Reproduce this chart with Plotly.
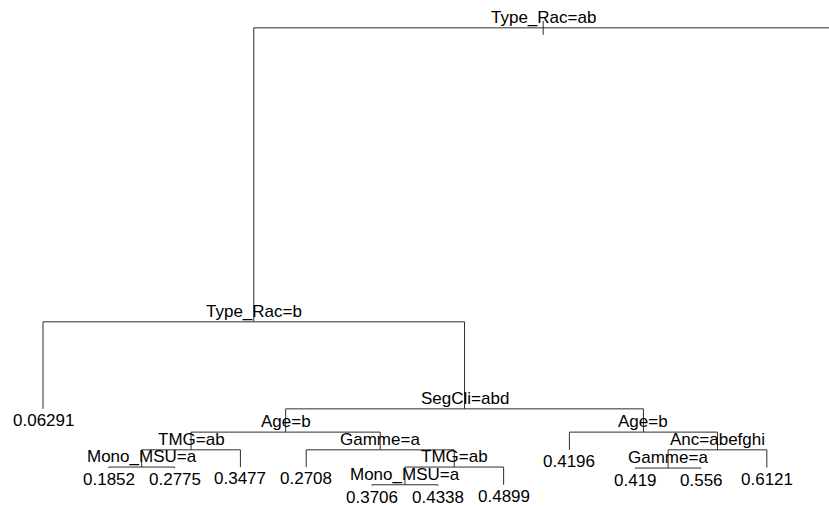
import plotly.graph_objects as go

# Regression tree (rpart-style numbering: children of node k are 2k and 2k+1)
node_ids = [1, 2, 3, 4, 5, 10, 11, 20, 21, 22, 23, 40, 41, 42, 43,
            46, 47, 80, 81, 86, 87, 92, 93, 172, 173]

split_labels = {
    1: "Type_Rac=ab",
    2: "Type_Rac=b",
    5: "SegCli=abd",
    10: "Age=b",
    11: "Age=b",
    20: "TMG=ab",
    21: "Gamme=a",
    23: "Anc=abefghi",
    40: "Mono_MSU=a",
    43: "TMG=ab",
    46: "Gamme=a",
    86: "Mono_MSU=a",
}

leaf_values = {
    3: None,          # right branch of the root continues beyond the frame
    4: "0.06291",
    22: "0.4196",
    41: "0.3477",
    42: "0.2708",
    47: "0.6121",
    80: "0.1852",
    81: "0.2775",
    87: "0.4899",
    92: "0.419",
    93: "0.556",
    172: "0.3706",
    173: "0.4338",
}

# node heights (deviance-scaled, root on top)
node_height = {
    1: 0.945,
    2: 0.364, 3: 0.364,
    4: 0.192, 5: 0.192,
    10: 0.146, 11: 0.146,
    20: 0.111, 21: 0.111, 22: 0.111, 23: 0.111,
    40: 0.077, 41: 0.077, 42: 0.077, 43: 0.077, 46: 0.075, 47: 0.076,
    80: 0.075, 81: 0.075, 86: 0.042, 87: 0.042, 92: 0.074, 93: 0.074,
    172: 0.040, 173: 0.040,
}

ids = set(node_ids)


def is_leaf(n):
    return (2 * n) not in ids


# leaf order from an in-order walk, internal x = midpoint of the children
xpos = {}
counter = [0]


def place(n):
    if is_leaf(n):
        xpos[n] = float(counter[0])
        counter[0] += 1
    else:
        place(2 * n)
        place(2 * n + 1)
        xpos[n] = (xpos[2 * n] + xpos[2 * n + 1]) / 2.0


place(1)

# branch segments
lx, ly = [], []
for n in node_ids:
    if n != 1:
        p = n // 2
        lx += [xpos[n], xpos[n], None]
        ly += [node_height[p], node_height[n], None]
    if not is_leaf(n):
        lx += [xpos[2 * n], xpos[2 * n + 1], None]
        ly += [node_height[n], node_height[n], None]

fig = go.Figure()
fig.add_trace(go.Scatter(
    x=lx, y=ly, mode="lines",
    line=dict(color="#2e2e2e", width=1),
    hoverinfo="skip", showlegend=False,
))

font = dict(family="Liberation Sans, Arial, sans-serif", size=17, color="black")
annotations = []
for n in node_ids:
    if n in split_labels:
        annotations.append(dict(
            x=xpos[n], y=node_height[n], text=split_labels[n],
            showarrow=False, yshift=10.5, font=font,
            xanchor="center", yanchor="middle",
        ))
    elif leaf_values.get(n):
        annotations.append(dict(
            x=xpos[n], y=node_height[n], text=leaf_values[n],
            showarrow=False, yshift=-11.5, font=font,
            xanchor="center", yanchor="middle",
        ))

# small stub marking the root node
shapes = [dict(
    type="line", xref="x", yref="y",
    x0=xpos[1], x1=xpos[1],
    ysizemode="pixel", yanchor=node_height[1], y0=-7, y1=7,
    line=dict(color="#2e2e2e", width=1),
)]

fig.update_layout(
    width=829, height=506,
    margin=dict(l=0, r=0, t=0, b=0),
    paper_bgcolor="white", plot_bgcolor="white",
    annotations=annotations, shapes=shapes,
    xaxis=dict(range=[-0.6535, 11.945], visible=False, fixedrange=True),
    yaxis=dict(range=[0, 1], visible=False, fixedrange=True),
    showlegend=False,
)

fig.write_html("out.html")
